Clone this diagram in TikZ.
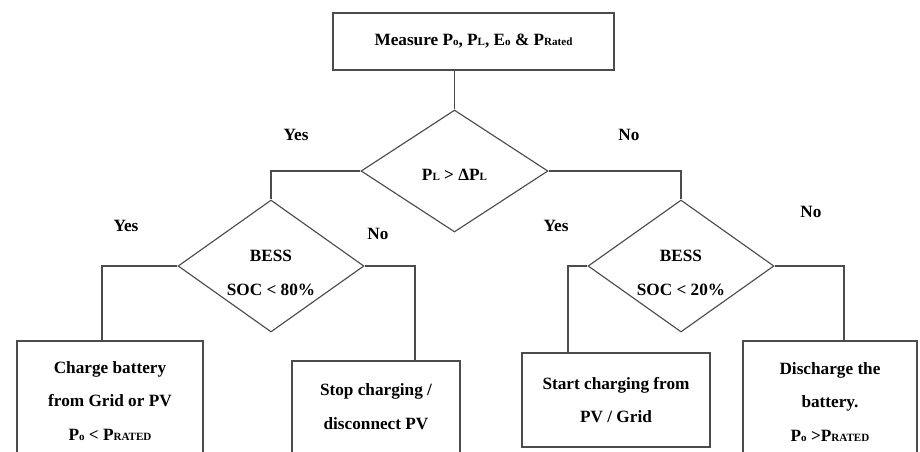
\documentclass[tikz,border=0pt]{standalone}
\usepackage{fontspec}
\setmainfont{Liberation Serif}
\usepackage{tikz}
\usetikzlibrary{
    positioning,
    shapes.geometric
}

\newcommand{\lowtxt}[1]{{\fontsize{6.3}{6}\selectfont #1}}
\newcommand{\topgap}[1]{\rule{0pt}{#1}}

\begin{document}
\begin{tikzpicture}[
    x=0.02cm, y=-0.02cm,
    every node/.style={font=\fontsize{9.8}{19.2}\selectfont\bfseries},
    process/.style={
        rectangle,
        draw=black!70,
        line width=0.65pt,
        align=center,
        inner sep=0pt
    },
    decision/.style={
        diamond,
        aspect=1.4,
        draw=black!70,
        line width=0.65pt,
        align=center,
        inner sep=0pt
    },
    link/.style={draw=black!70, line width=0.65pt},
    lbl/.style={inner sep=0pt}
]

\useasboundingbox (0,0) rectangle (920,451);

\node[process, minimum width=5.62cm, minimum height=1.14cm] (measure) at (473.5,41.5)
    {Measure P\lowtxt{o}, P\lowtxt{L}, E\lowtxt{o} \& P\lowtxt{Rated}};

\node[decision, minimum width=3.74cm, minimum height=2.44cm] (load) at (454.5,171)
    {\topgap{11pt}P\lowtxt{L} > ΔP\lowtxt{L}};

\node[decision, minimum width=3.72cm, minimum height=2.64cm] (socHigh) at (271,266)
    {\topgap{14pt}BESS\\SOC < 80\%};

\node[decision, minimum width=3.72cm, minimum height=2.64cm] (socLow) at (681,266)
    {\topgap{14pt}BESS\\SOC < 20\%};

\node[process, minimum width=3.72cm, minimum height=2.4cm] (charge) at (110,401)
    {Charge battery\\from Grid or PV\\P\lowtxt{o} < P\lowtxt{RATED}};

\node[process, minimum width=3.36cm, minimum height=1.84cm] (stop) at (376,407)
    {Stop charging /\\disconnect PV};

\node[process, minimum width=3.76cm, minimum height=1.88cm] (start) at (616,400)
    {Start charging from\\PV / Grid};

\node[process, minimum width=3.48cm, minimum height=2.44cm] (discharge) at (830,402)
    {Discharge the\\battery.\\P\lowtxt{o} >P\lowtxt{RATED}};

\draw[link] (measure.south -| load.north) -- (load.north);
\draw[link] (load.west) -| (socHigh.north);
\draw[link] (load.east) -| (socLow.north);
\draw[link] (socHigh.west) -| ([xshift=-0.16cm]charge.north);
\draw[link] (socHigh.east) -| ([xshift=0.78cm]stop.north);
\draw[link] (socLow.west) -| ([xshift=-0.96cm]start.north);
\draw[link] (socLow.east) -| ([xshift=0.28cm]discharge.north);

\node[lbl] (yesLoad) at (296,135) {Yes};
\node[lbl] (noLoad) at (629,135) {No};
\node[lbl] (yesHigh) at (126,226) {Yes};
\node[lbl] (noHigh) at (378,234) {No};
\node[lbl] (yesLow) at (556,226) {Yes};
\node[lbl] (noLow) at (811,212) {No};

\end{tikzpicture}
\end{document}
